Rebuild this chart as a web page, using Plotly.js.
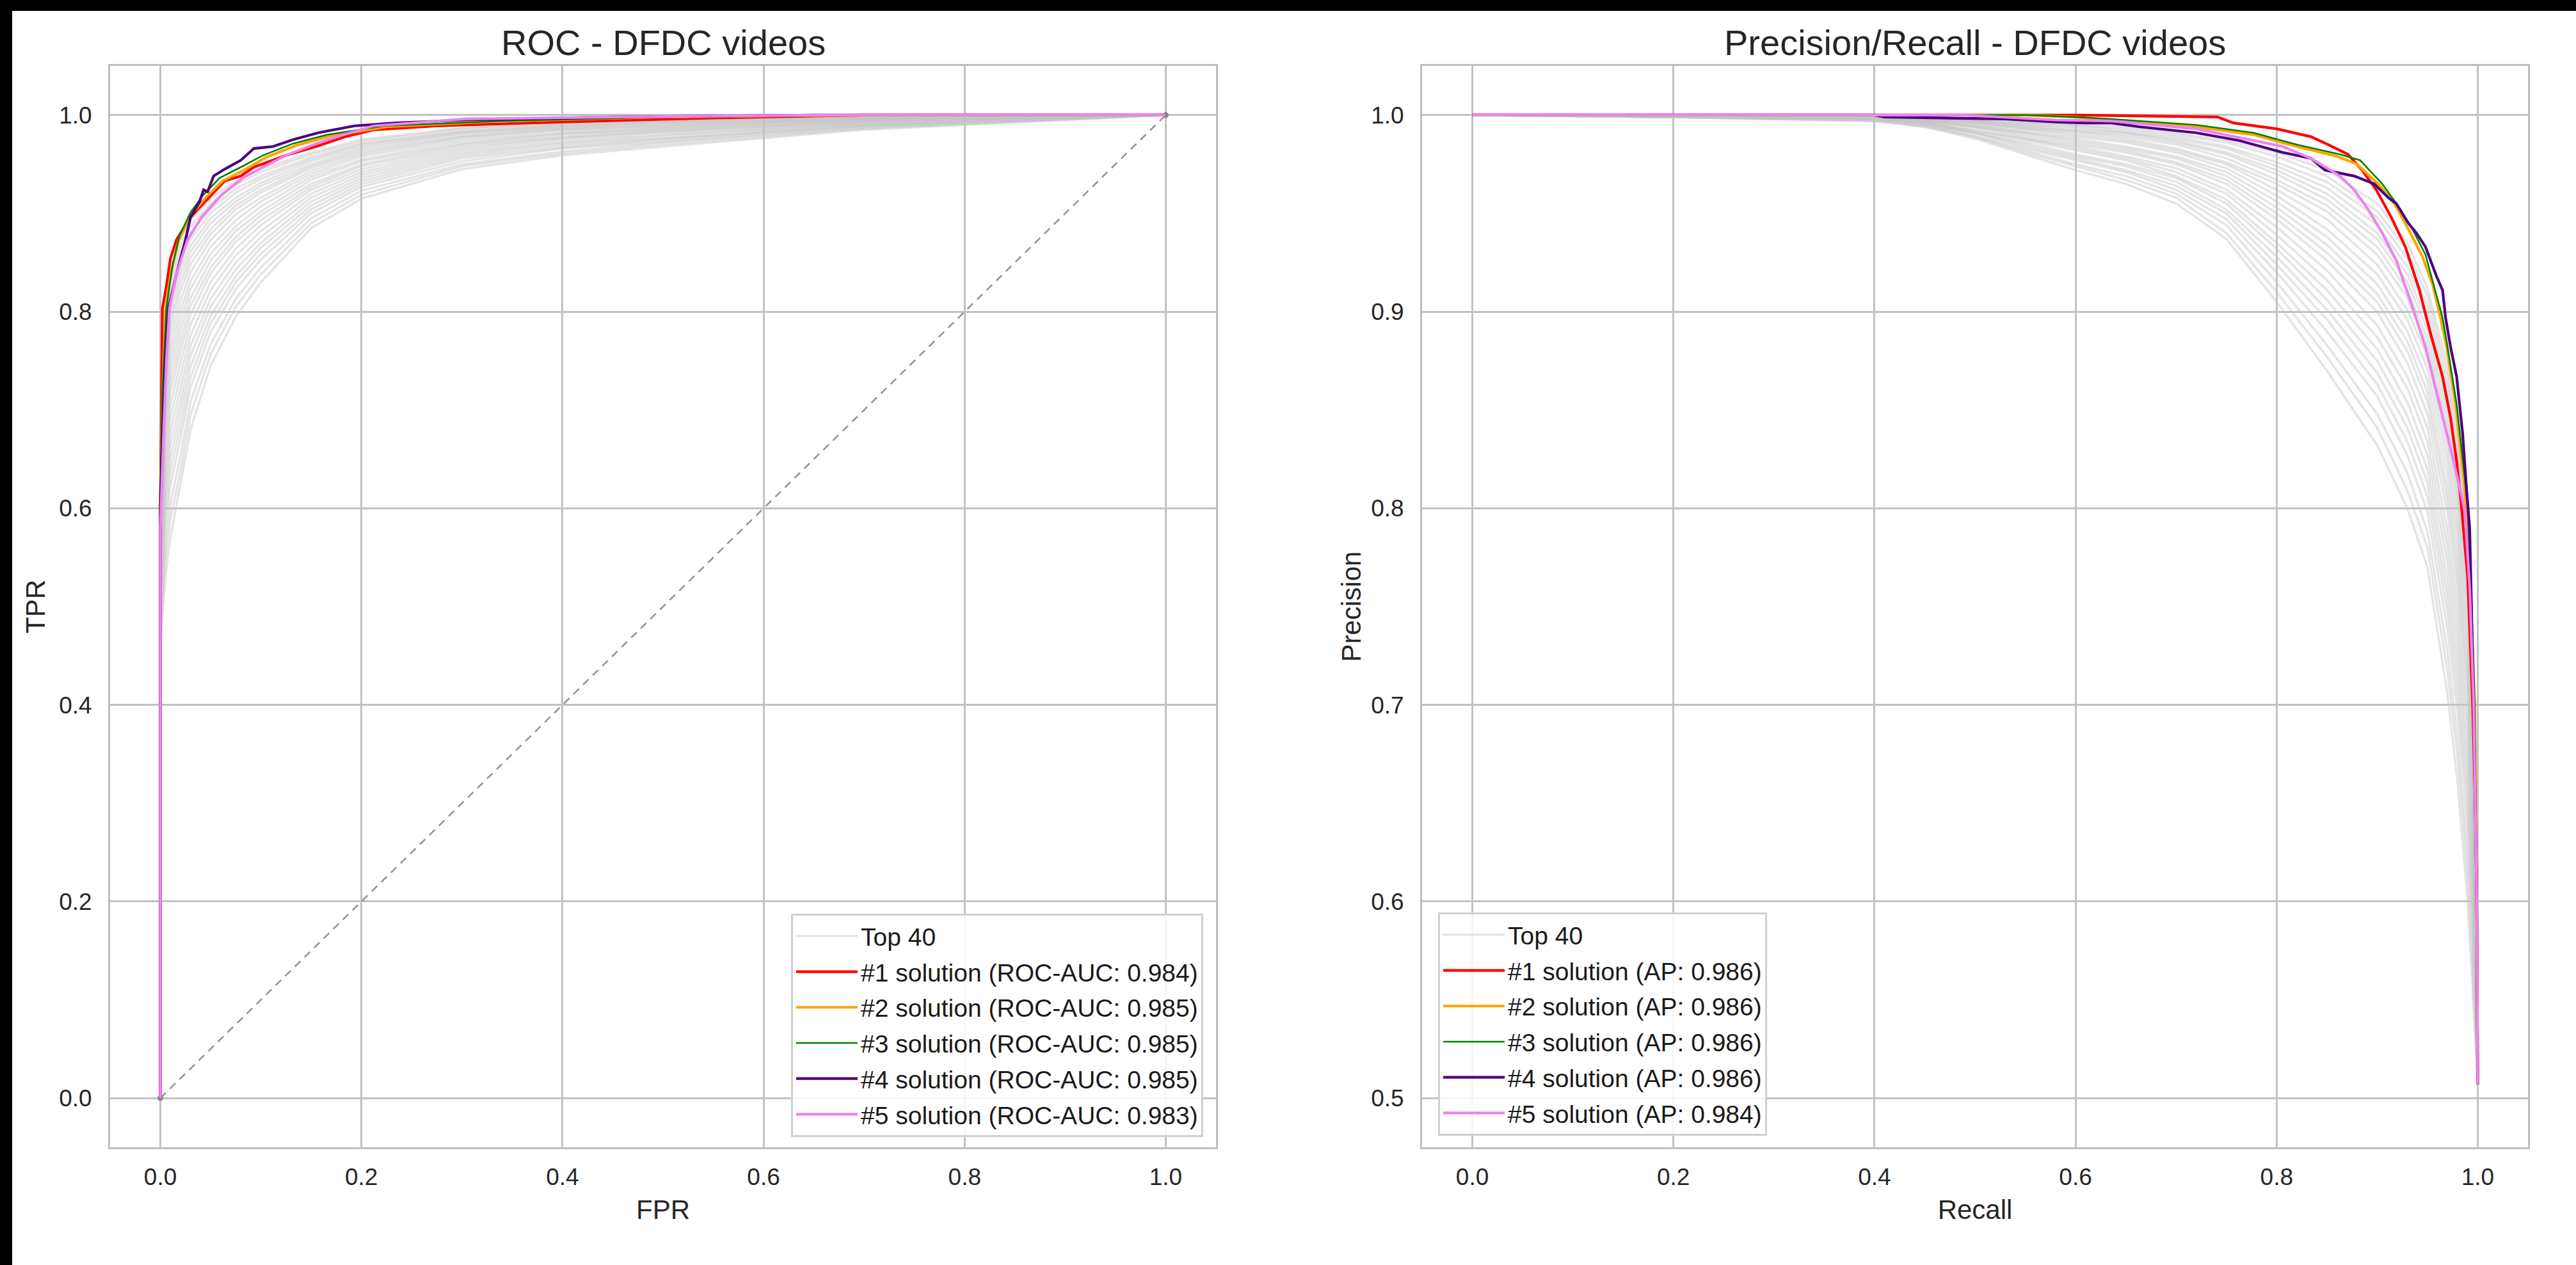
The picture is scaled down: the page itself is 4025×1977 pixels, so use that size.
<!DOCTYPE html>
<html>
<head>
<meta charset="utf-8">
<script src="https://cdn.plot.ly/plotly-3.0.1.min.js"></script>
<style>html,body{margin:0;padding:0;background:#fff;}</style>
</head>
<body>
<div id="chart"></div>
<script>
// ---------------- DATA ----------------
const rocTitle = 'ROC - DFDC videos';
const prTitle = 'Precision/Recall - DFDC videos';
const rocTickVals = [0, 0.2, 0.4, 0.6, 0.8, 1.0];
const rocTickText = ['0.0', '0.2', '0.4', '0.6', '0.8', '1.0'];
const prYTickVals = [0.5, 0.6, 0.7, 0.8, 0.9, 1.0];
const prYTickText = ['0.5', '0.6', '0.7', '0.8', '0.9', '1.0'];

const rocLabels = ['#1 solution (ROC-AUC: 0.984)', '#2 solution (ROC-AUC: 0.985)', '#3 solution (ROC-AUC: 0.985)', '#4 solution (ROC-AUC: 0.985)', '#5 solution (ROC-AUC: 0.983)'];
const prLabels = ['#1 solution (AP: 0.986)', '#2 solution (AP: 0.986)', '#3 solution (AP: 0.986)', '#4 solution (AP: 0.986)', '#5 solution (AP: 0.984)'];
const top40Label = 'Top 40';

// chance diagonal
const diagX = [0, 1];
const diagY = [0, 1];

// ROC, top-40 band (shared FPR grid)
const rocGridFpr = [0, 0, 0.005, 0.01, 0.02, 0.03, 0.05, 0.075, 0.1, 0.15, 0.2, 0.3, 0.4, 0.5, 0.7, 1.0];
const rocTop40Tpr = [
  [0,.620,.780,.840,.875,.893,.915,.933,.945,.962,.975,.987,.992,.995,.999,1],
  [0,.615,.773,.832,.867,.887,.910,.929,.942,.960,.973,.986,.991,.994,.999,1],
  [0,.610,.765,.824,.860,.880,.905,.925,.938,.957,.971,.984,.990,.993,.998,1],
  [0,.606,.758,.816,.852,.874,.900,.921,.935,.955,.970,.983,.989,.993,.998,1],
  [0,.601,.750,.808,.844,.867,.895,.916,.931,.953,.968,.982,.988,.992,.997,1],
  [0,.596,.743,.800,.837,.861,.890,.912,.928,.950,.966,.981,.987,.991,.997,1],
  [0,.591,.735,.791,.829,.855,.884,.908,.924,.948,.964,.979,.986,.990,.996,1],
  [0,.586,.728,.783,.821,.848,.879,.904,.921,.946,.962,.978,.985,.989,.996,1],
  [0,.580,.718,.773,.811,.840,.873,.899,.916,.943,.960,.977,.984,.988,.996,1],
  [0,.574,.708,.762,.801,.831,.866,.893,.912,.940,.958,.975,.982,.987,.995,1],
  [0,.567,.698,.751,.791,.823,.859,.887,.907,.937,.955,.973,.981,.986,.994,1],
  [0,.561,.688,.740,.781,.814,.852,.882,.902,.934,.953,.971,.980,.985,.994,1],
  [0,.554,.678,.729,.770,.806,.845,.876,.898,.930,.950,.970,.978,.984,.993,1],
  [0,.548,.668,.718,.760,.797,.839,.871,.893,.927,.948,.968,.977,.983,.993,1],
  [0,.540,.655,.705,.748,.787,.830,.864,.888,.924,.945,.966,.976,.982,.992,1],
  [0,.532,.643,.692,.735,.776,.822,.857,.882,.920,.942,.964,.974,.980,.991,1],
  [0,.524,.630,.678,.722,.765,.813,.850,.876,.916,.939,.962,.972,.979,.991,1],
  [0,.516,.618,.665,.709,.755,.805,.843,.870,.912,.936,.960,.971,.977,.990,1],
  [0,.508,.605,.651,.697,.744,.796,.836,.865,.908,.933,.958,.969,.976,.989,1],
  [0,.500,.593,.638,.684,.733,.788,.830,.859,.904,.930,.956,.967,.975,.989,1],
  [0,.492,.580,.624,.671,.723,.779,.823,.853,.900,.927,.953,.966,.973,.988,1],
  [0,.481,.563,.605,.653,.708,.767,.813,.845,.895,.923,.950,.963,.972,.987,1],
  [0,.471,.548,.589,.638,.695,.757,.805,.838,.890,.919,.948,.961,.970,.986,1],
  [0,.460,.530,.570,.625,.680,.745,.795,.830,.885,.915,.945,.959,.968,.985,1]
];

// ROC, top-5 solutions
const roc1Fpr = [0, 0, 0.001, 0.002, 0.006, 0.010, 0.016, 0.030, 0.038, 0.057, 0.064, 0.080, 0.093, 0.125, 0.155, 0.184, 0.212, 0.275, 0.40, 0.55, 0.70, 1.0];
const roc1Tpr = [0, 0.60, 0.70, 0.803, 0.826, 0.854, 0.873, 0.896, 0.905, 0.926, 0.933, 0.938, 0.947, 0.959, 0.968, 0.978, 0.985, 0.989, 0.993, 0.997, 1.0, 1.0];
const roc2Fpr = [0, 0, 0.002, 0.005, 0.008, 0.012, 0.018, 0.030, 0.045, 0.062, 0.085, 0.105, 0.135, 0.170, 0.225, 0.340, 0.50, 0.70, 1.0];
const roc2Tpr = [0, 0.61, 0.71, 0.800, 0.824, 0.846, 0.872, 0.898, 0.916, 0.933, 0.945, 0.957, 0.969, 0.979, 0.988, 0.994, 0.998, 1.0, 1.0];
const roc3Fpr = [0, 0, 0.002, 0.006, 0.009, 0.0125, 0.019, 0.030, 0.043, 0.059, 0.080, 0.102, 0.132, 0.166, 0.223, 0.341, 0.50, 0.70, 1.0];
const roc3Tpr = [0, 0.62, 0.72, 0.803, 0.826, 0.849, 0.877, 0.901, 0.919, 0.936, 0.947, 0.959, 0.971, 0.980, 0.989, 0.994, 0.998, 1.0, 1.0];
const roc4Fpr = [0, 0, 0.002, 0.005, 0.008, 0.016, 0.025, 0.030, 0.039, 0.043, 0.047, 0.053, 0.064, 0.080, 0.093, 0.112, 0.132, 0.157, 0.193, 0.234, 0.303, 0.45, 0.65, 1.0];
const roc4Tpr = [0, 0.60, 0.67, 0.75, 0.803, 0.838, 0.873, 0.896, 0.912, 0.924, 0.922, 0.938, 0.945, 0.954, 0.966, 0.968, 0.975, 0.982, 0.989, 0.992, 0.995, 0.998, 1.0, 1.0];
const roc5Fpr = [0, 0, 0.003, 0.006, 0.009, 0.016, 0.027, 0.041, 0.061, 0.082, 0.102, 0.125, 0.155, 0.182, 0.212, 0.303, 0.45, 0.65, 1.0];
const roc5Tpr = [0, 0.58, 0.67, 0.75, 0.803, 0.838, 0.873, 0.896, 0.919, 0.936, 0.947, 0.959, 0.971, 0.980, 0.989, 0.996, 0.998, 1.0, 1.0];

// Precision/Recall, top-40 band (shared recall grid)
const prGridRecall = [0, 0.2, 0.4, 0.45, 0.5, 0.55, 0.6, 0.65, 0.7, 0.75, 0.8, 0.85, 0.9, 0.93, 0.95, 0.97, 0.98, 0.99, 0.995, 1.0];
const prTop40Prec = [
  [1,1,1,.999,.998,.997,.996,.994,.991,.987,.981,.972,.955,.935,.912,.872,.840,.790,.720,.507],
  [1,1,1,.999,.998,.996,.995,.993,.990,.986,.979,.969,.951,.931,.908,.867,.835,.784,.715,.507],
  [1,1,1,.999,.997,.996,.995,.992,.989,.984,.976,.966,.948,.927,.903,.862,.829,.779,.710,.507],
  [1,1,1,.999,.997,.995,.994,.991,.988,.983,.974,.963,.944,.923,.899,.857,.824,.773,.705,.507],
  [1,1,1,.998,.997,.995,.993,.991,.987,.981,.972,.960,.940,.919,.895,.852,.818,.767,.700,.507],
  [1,1,1,.998,.997,.994,.992,.990,.986,.980,.970,.957,.937,.915,.891,.847,.813,.762,.695,.507],
  [1,1,.999,.998,.996,.994,.992,.989,.985,.978,.967,.954,.933,.911,.886,.842,.808,.756,.690,.507],
  [1,1,.999,.998,.996,.993,.991,.988,.983,.976,.965,.951,.929,.907,.882,.837,.802,.750,.685,.507],
  [1,1,.999,.998,.996,.993,.990,.987,.982,.975,.962,.947,.924,.901,.877,.830,.795,.743,.679,.507],
  [1,1,.999,.998,.995,.992,.989,.986,.981,.973,.959,.942,.919,.896,.871,.824,.788,.735,.672,.507],
  [1,1,.999,.997,.995,.991,.988,.984,.979,.971,.956,.938,.914,.890,.865,.817,.781,.727,.666,.507],
  [1,1,.999,.997,.994,.991,.987,.983,.978,.969,.953,.934,.909,.885,.859,.810,.773,.720,.659,.507],
  [1,1,.999,.997,.994,.990,.986,.982,.976,.967,.950,.930,.905,.880,.854,.804,.766,.712,.652,.507],
  [1,1,.999,.997,.994,.989,.985,.981,.975,.965,.947,.926,.900,.874,.848,.797,.759,.705,.646,.507],
  [1,.999,.998,.996,.993,.988,.984,.979,.973,.962,.943,.921,.893,.867,.841,.788,.750,.695,.637,.507],
  [1,.999,.998,.996,.992,.988,.983,.978,.971,.960,.939,.916,.887,.861,.834,.780,.741,.686,.629,.507],
  [1,.999,.998,.996,.992,.987,.982,.977,.969,.957,.935,.911,.881,.854,.827,.772,.732,.676,.621,.507],
  [1,.999,.998,.996,.991,.986,.980,.975,.968,.955,.932,.906,.875,.847,.820,.763,.723,.667,.613,.507],
  [1,.999,.998,.996,.991,.985,.979,.974,.966,.952,.928,.901,.869,.841,.813,.755,.714,.657,.604,.507],
  [1,.999,.998,.995,.991,.984,.978,.972,.964,.950,.924,.896,.863,.834,.806,.747,.705,.648,.596,.507],
  [1,.999,.998,.995,.990,.983,.977,.971,.962,.947,.920,.890,.857,.827,.798,.738,.696,.638,.588,.507],
  [1,.999,.997,.995,.989,.982,.975,.969,.960,.944,.915,.883,.848,.818,.788,.727,.683,.625,.576,.507],
  [1,.999,.997,.994,.989,.981,.974,.967,.958,.940,.910,.877,.841,.809,.780,.717,.673,.613,.566,.507],
  [1,.999,.997,.994,.988,.980,.972,.965,.955,.937,.905,.870,.832,.800,.770,.705,.660,.600,.555,.507]
];

// Precision/Recall, top-5 solutions
const pr1Recall = [0, 0.40, 0.60, 0.741, 0.757, 0.800, 0.834, 0.851, 0.871, 0.885, 0.899, 0.914, 0.928, 0.942, 0.953, 0.965, 0.973, 0.979, 0.984, 0.990, 0.995, 0.998, 0.999, 1.0];
const pr1Prec = [1, 1, 1, 0.999, 0.996, 0.993, 0.989, 0.985, 0.980, 0.972, 0.962, 0.948, 0.933, 0.911, 0.889, 0.867, 0.846, 0.824, 0.800, 0.765, 0.700, 0.640, 0.600, 0.507];
const pr2Recall = [0, 0.55, 0.60, 0.635, 0.72, 0.777, 0.820, 0.860, 0.880, 0.903, 0.917, 0.931, 0.945, 0.955, 0.963, 0.969, 0.978, 0.986, 0.990, 0.994, 0.997, 0.999, 1.0];
const pr2Prec = [1, 1, 0.999, 0.997, 0.994, 0.990, 0.984, 0.979, 0.975, 0.964, 0.955, 0.942, 0.928, 0.914, 0.897, 0.882, 0.853, 0.816, 0.790, 0.740, 0.700, 0.600, 0.507];
const pr3Recall = [0, 0.55, 0.60, 0.635, 0.72, 0.777, 0.820, 0.863, 0.883, 0.905, 0.919, 0.934, 0.948, 0.956, 0.965, 0.970, 0.979, 0.987, 0.990, 0.994, 0.997, 0.999, 1.0];
const pr3Prec = [1, 1, 0.999, 0.998, 0.995, 0.991, 0.985, 0.980, 0.977, 0.965, 0.955, 0.943, 0.929, 0.914, 0.897, 0.882, 0.853, 0.816, 0.800, 0.750, 0.700, 0.600, 0.507];
const pr4Recall = [0, 0.40, 0.41, 0.50, 0.53, 0.58, 0.61, 0.635, 0.664, 0.72, 0.763, 0.806, 0.834, 0.848, 0.877, 0.897, 0.911, 0.919, 0.931, 0.939, 0.948, 0.959, 0.965, 0.968, 0.973, 0.979, 0.985, 0.989, 0.992, 0.996, 0.999, 1.0];
const pr4Prec = [1, 1, 0.999, 0.9985, 0.998, 0.9965, 0.996, 0.996, 0.994, 0.991, 0.987, 0.981, 0.978, 0.972, 0.969, 0.965, 0.958, 0.955, 0.945, 0.940, 0.933, 0.918, 0.911, 0.897, 0.882, 0.867, 0.838, 0.809, 0.790, 0.700, 0.600, 0.507];
const pr5Recall = [0, 0.49, 0.58, 0.635, 0.72, 0.777, 0.806, 0.834, 0.863, 0.877, 0.891, 0.905, 0.919, 0.934, 0.948, 0.962, 0.976, 0.987, 0.992, 0.996, 0.999, 1.0];
const pr5Prec = [1, 1, 0.9975, 0.997, 0.993, 0.987, 0.984, 0.978, 0.969, 0.962, 0.952, 0.940, 0.926, 0.904, 0.882, 0.853, 0.824, 0.799, 0.760, 0.700, 0.600, 0.507];

// ---------------- STYLE ----------------
const solColors = ['#ff0000', '#ffa500', '#008000', '#4b0082', '#ee82ee'];
const solWidths = [4.2, 4.2, 2.6, 4.2, 4.2];
const grayLine = 'rgba(195,195,195,0.45)';
const FONT = 'Liberation Sans, Arial, Helvetica, sans-serif';
const TXT = '#262626';

const rocCurves = [[roc1Fpr, roc1Tpr], [roc2Fpr, roc2Tpr], [roc3Fpr, roc3Tpr], [roc4Fpr, roc4Tpr], [roc5Fpr, roc5Tpr]];
const prCurves = [[pr1Recall, pr1Prec], [pr2Recall, pr2Prec], [pr3Recall, pr3Prec], [pr4Recall, pr4Prec], [pr5Recall, pr5Prec]];

const traces = [];
// diagonal
traces.push({x: diagX, y: diagY, xaxis: 'x', yaxis: 'y', mode: 'lines+markers', showlegend: false,
  line: {color: 'rgba(110,110,110,0.75)', width: 2.5, dash: '12px,9px'},
  marker: {color: 'rgba(110,110,110,0.8)', size: 9}, hoverinfo: 'skip'});

// ROC gray band
rocTop40Tpr.forEach((row, i) => {
  traces.push({x: rocGridFpr, y: row, xaxis: 'x', yaxis: 'y', mode: 'lines', name: top40Label,
    legend: 'legend', legendgroup: 'roc40', showlegend: i === 0,
    line: {color: grayLine, width: 3.5}});
});
// ROC solutions
rocCurves.forEach((c, i) => {
  traces.push({x: c[0], y: c[1], xaxis: 'x', yaxis: 'y', mode: 'lines', name: rocLabels[i],
    legend: 'legend', legendgroup: 'roc' + i, line: {color: solColors[i], width: solWidths[i]}});
});

// PR gray band
prTop40Prec.forEach((row, i) => {
  traces.push({x: prGridRecall, y: row, xaxis: 'x2', yaxis: 'y2', mode: 'lines', name: top40Label,
    legend: 'legend2', legendgroup: 'pr40', showlegend: i === 0,
    line: {color: grayLine, width: 3.5}});
});
// PR solutions
prCurves.forEach((c, i) => {
  traces.push({x: c[0], y: c[1], xaxis: 'x2', yaxis: 'y2', mode: 'lines', name: prLabels[i],
    legend: 'legend2', legendgroup: 'pr' + i, line: {color: solColors[i], width: solWidths[i]}});
});

const axisBase = {
  showgrid: true, gridcolor: '#c2c2c2', gridwidth: 3, zeroline: false,
  showline: true, mirror: true, linecolor: '#bdbdbd', linewidth: 3,
  ticks: 'outside', tickcolor: 'rgba(0,0,0,0)', tickmode: 'array',
  tickfont: {family: FONT, size: 37, color: TXT}
};

const L = 172, R = 75, T = 103, B = 184;
const PW = 4025 - L - R, PH = 1977 - T - B;
const px = X => (X - L) / PW;
const py = Y => (1977 - B - Y) / PH;

const legendBase = {
  bgcolor: 'rgba(255,255,255,0.85)', bordercolor: '#cfcfcf', borderwidth: 3,
  font: {family: FONT, size: 39, color: '#1a1a1a'}, itemwidth: 96,
  traceorder: 'grouped', tracegroupgap: 2
};

const layout = {
  width: 4025, height: 1977,
  margin: {l: L, r: R, t: T, b: B, pad: 0},
  paper_bgcolor: '#ffffff', plot_bgcolor: '#ffffff',
  font: {family: FONT, color: TXT, size: 37},
  showlegend: true,
  xaxis: Object.assign({}, axisBase, {domain: [0, px(1900)], range: [-0.05, 1.05], anchor: 'y',
    tickvals: rocTickVals, ticktext: rocTickText, ticklen: 12,
    title: {text: 'FPR', font: {family: FONT, size: 42, color: TXT}, standoff: 17}}),
  yaxis: Object.assign({}, axisBase, {domain: [0, 1], range: [-0.05, 1.05], anchor: 'x',
    tickvals: rocTickVals, ticktext: rocTickText, ticklen: 18,
    title: {text: 'TPR', font: {family: FONT, size: 42, color: TXT}, standoff: 9}}),
  xaxis2: Object.assign({}, axisBase, {domain: [px(2222), 1], range: [-0.05, 1.05], anchor: 'y2',
    tickvals: rocTickVals, ticktext: rocTickText, ticklen: 12,
    title: {text: 'Recall', font: {family: FONT, size: 42, color: TXT}, standoff: 17}}),
  yaxis2: Object.assign({}, axisBase, {domain: [0, 1], range: [0.475, 1.025], anchor: 'x2',
    tickvals: prYTickVals, ticktext: prYTickText, ticklen: 18,
    title: {text: 'Precision', font: {family: FONT, size: 42, color: TXT}, standoff: 3}}),
  legend: Object.assign({}, legendBase, {x: px(1880), xanchor: 'right', y: py(1777), yanchor: 'bottom'}),
  legend2: Object.assign({}, legendBase, {x: px(2247), xanchor: 'left', y: py(1775), yanchor: 'bottom'}),
  annotations: [
    {text: rocTitle, xref: 'paper', yref: 'paper', x: px(1036), y: py(66), xanchor: 'center', yanchor: 'middle',
     showarrow: false, font: {family: FONT, size: 56, color: TXT}},
    {text: prTitle, xref: 'paper', yref: 'paper', x: px(3086), y: py(66), xanchor: 'center', yanchor: 'middle',
     showarrow: false, font: {family: FONT, size: 56, color: TXT}}
  ],
  shapes: [
    {type: 'rect', xref: 'paper', yref: 'paper', x0: px(-10), x1: px(4040), y0: py(17), y1: py(-10),
     fillcolor: '#000000', line: {width: 0}, layer: 'above'},
    {type: 'rect', xref: 'paper', yref: 'paper', x0: px(-10), x1: px(19), y0: py(1990), y1: py(-10),
     fillcolor: '#000000', line: {width: 0}, layer: 'above'}
  ]
};

Plotly.newPlot('chart', traces, layout, {staticPlot: true, displayModeBar: false});
</script>
</body>
</html>
